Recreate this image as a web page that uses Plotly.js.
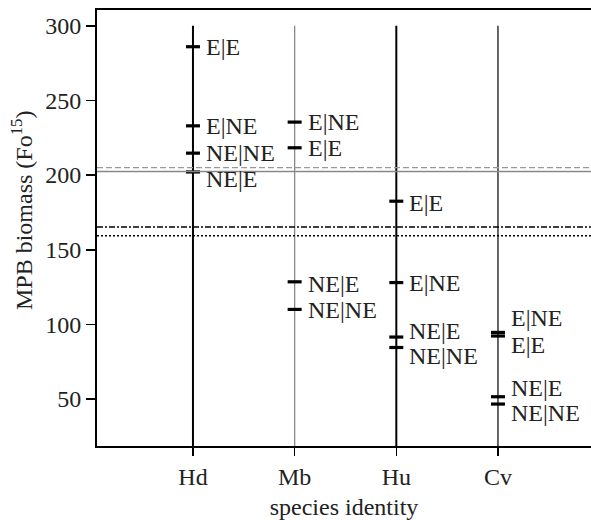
<!DOCTYPE html>
<html>
<head>
<meta charset="utf-8">
<script src="https://cdn.plot.ly/plotly-3.0.1.min.js"></script>
<style>html,body{margin:0;padding:0;background:#fff;}#chart{width:591px;height:520px;}</style>
</head>
<body>
<div id="chart"></div>
<script>
// ---- data ----
const species = ['Hd', 'Mb', 'Hu', 'Cv'];
const groups = ['E|E', 'E|NE', 'NE|E', 'NE|NE'];
const valEE   = [286, 218.3, 182.5, 92.2];
const valENE  = [233, 235.5, 128, 94.6];
const valNEE  = [202.1, 128.5, 91.5, 51.5];
const valNENE = [214.7, 110, 84.5, 46.6];
// label positions (spread apart where values overlap)
const labEE   = [286, 218.3, 181.4, 86.3];
const labENE  = [233, 235.7, 128, 104.4];
const labNEE  = [197.7, 127.2, 95.3, 57.3];
const labNENE = [215, 109.8, 78.5, 40.6];
// horizontal reference lines
const refValues = [205, 202.4, 165.2, 159.3];
// vertical range lines per species
const lineTop = 300;
const yRange = [18.5, 310.6];
const xRange = [-0.944, 3.915];
const yTicks = [50, 100, 150, 200, 250, 300];

const FONT = '"Liberation Serif", "Times New Roman", serif';
const TXT = '#222';
const FS = 24;

const traces = [];
// vertical lines
const vStyles = [
  {color: '#000', width: 2},
  {color: '#888', width: 1.3},
  {color: '#000', width: 2},
  {color: '#000', width: 1.2}
];
species.forEach((s, i) => {
  traces.push({x: [s, s], y: [lineTop, yRange[0]], mode: 'lines', line: vStyles[i], hoverinfo: 'skip', showlegend: false});
});
// horizontal reference lines
const hStyles = [
  {color: '#999', width: 1.3, dash: '6px,3px'},
  {color: '#888', width: 1.3},
  {color: '#000', width: 1.5, dash: '6px,2px,2px,2px'},
  {color: '#000', width: 1.5, dash: '2px,2px'}
];
refValues.forEach((v, i) => {
  traces.push({x: [xRange[0], xRange[1]], y: [v, v], xaxis: 'x2', mode: 'lines', line: hStyles[i], hoverinfo: 'skip', showlegend: false});
});
// data ticks
const allVals = [valEE, valENE, valNEE, valNENE];
const allLabs = [labEE, labENE, labNEE, labNENE];
allVals.forEach((vals, g) => {
  traces.push({x: species, y: vals, mode: 'markers', name: groups[g],
    marker: {symbol: 'line-ew', size: 10, line: {width: 3.2, color: '#000'}}, showlegend: false, cliponaxis: false});
});
const annotations = [];
allLabs.forEach((labs, g) => {
  labs.forEach((v, i) => {
    annotations.push({x: species[i], y: v, xref: 'x', yref: 'y', text: groups[g], showarrow: false,
      xanchor: 'left', yanchor: 'middle', xshift: 11, font: {family: FONT, size: FS, color: TXT}});
  });
});
annotations.push({xref: 'paper', yref: 'paper', x: 0, y: 0.539, xshift: -75, text: 'MPB biomass (Fo<sup>15</sup>)',
  textangle: -90, showarrow: false, xanchor: 'center', yanchor: 'middle', font: {family: FONT, size: FS, color: TXT}});

const layout = {
  width: 591, height: 520,
  margin: {l: 97, r: 0, t: 10, b: 74},
  paper_bgcolor: '#fff', plot_bgcolor: '#fff',
  showlegend: false,
  font: {family: FONT, size: FS, color: TXT},
  xaxis: {type: 'category', categoryarray: species, range: xRange, showgrid: false, zeroline: false,
    showline: true, mirror: true, linecolor: '#000', linewidth: 2,
    ticks: 'outside', ticklen: 8, tickwidth: 1.6, tickcolor: '#000',
    tickfont: {family: FONT, size: FS, color: TXT},
    title: {text: 'species identity', font: {family: FONT, size: FS, color: TXT}, standoff: 10}},
  xaxis2: {overlaying: 'x', range: xRange, visible: false},
  yaxis: {range: yRange, tickvals: yTicks, showgrid: false, zeroline: false,
    showline: true, linecolor: '#000', linewidth: 2,
    ticks: 'outside', ticklen: 9, tickwidth: 1.6, tickcolor: '#000',
    tickfont: {family: FONT, size: FS, color: TXT}},
  annotations: annotations
};
Plotly.newPlot('chart', traces, layout, {displayModeBar: false, staticPlot: true});
</script>
</body>
</html>
